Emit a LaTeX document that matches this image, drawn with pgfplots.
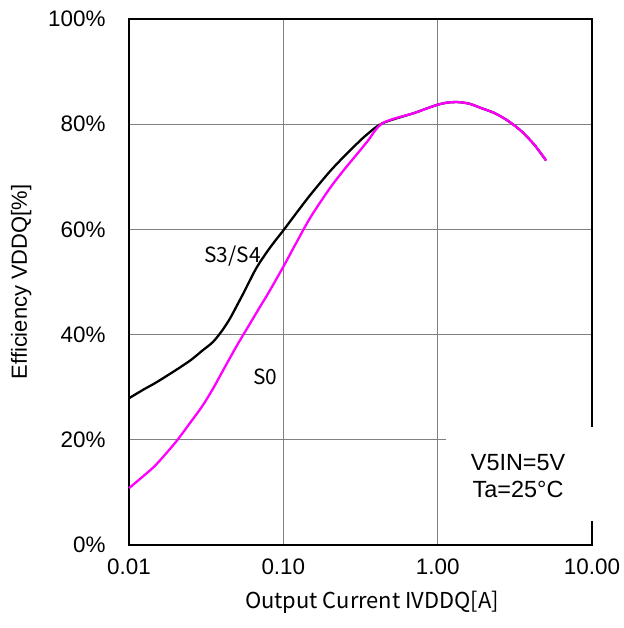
\documentclass[border=0pt]{standalone}
\usepackage{fontspec}
\setmainfont{Liberation Sans}
\newfontfamily\gothic{Noto Sans CJK JP}
\usepackage{pgfplots}
\pgfplotsset{compat=1.18}
\definecolor{mag}{RGB}{255,0,255}
\begin{document}
\begin{tikzpicture}
\begin{axis}[
  width=463bp, height=526bp, scale only axis,
  xmode=log, xmin=0.01, xmax=10, ymin=0, ymax=100,
  xtick={0.01,0.1,1,10}, xticklabels={0.01,0.10,1.00,10.00},
  ytick={0,20,40,60,80,100}, yticklabels={0\%,20\%,40\%,60\%,80\%,100\%},
  minor xtick={}, xminorgrids=false,
  grid=major,
  major grid style={draw=black!50, line width=0.8pt},
  axis line style={line width=1.8pt},
  major tick length=0pt, minor tick length=0pt,
  /pgf/number format/assume math mode=true,
  tick label style={font=\fontsize{22.5}{26}\selectfont},
  xticklabel style={yshift=-10bp},
  yticklabel style={xshift=-20bp},
  xlabel={\gothic\fontsize{22}{24}\selectfont Output Current IVDDQ[A]},
  ylabel={\fontsize{22}{26}\selectfont Efficiency VDDQ[\%]},
  xlabel style={at={(axis description cs:0.525,-0.12)}, anchor=base},
  ylabel style={at={(axis description cs:-0.233,0.5)}, anchor=center},
  clip=false,
  after end axis/.code={
    \fill[white] (axis cs:1.135,4.6) rectangle ([xshift=12bp]axis cs:10,22.4);
    \node[align=center, font=\fontsize{23.5}{28}\selectfont] at (axis cs:3.32,13.1) {V5IN=5V\\Ta=25°C};
    \path ([xshift=-129bp,yshift=19bp]axis description cs:0,1) rectangle ([xshift=28bp,yshift=-83bp]axis description cs:1,0);
  },
]
\addplot[black, line width=2.3pt, smooth] coordinates {
(0.01,27.9) (0.0125,29.6) (0.015,30.9) (0.02,33.2) (0.025,35.1) (0.03,37.0)
(0.035,38.6) (0.04,40.7) (0.045,43.0) (0.05,45.5) (0.055,47.8) (0.06,50.0)
(0.065,52.0) (0.07,53.6) (0.08,56.1) (0.09,58.1) (0.1,59.8) (0.12,62.9)
(0.15,66.6) (0.2,71.0) (0.25,74.0) (0.3,76.3) (0.35,78.1) (0.44,80.2)
(0.7,82.1) (0.85,83.0) (1.0,83.7) (1.15,84.1) (1.35,84.2) (1.6,83.9)
(1.9,83.1) (2.3,82.2) (2.7,81.1) (3.13,79.8) (3.6,78.3) (4.2,76.2) (4.6,74.7) (5.04,73.1)
};
\addplot[mag, line width=2.3pt, smooth] coordinates {
(0.01,10.8) (0.0125,13.2) (0.015,15.3) (0.02,19.5) (0.025,23.3) (0.03,26.5)
(0.035,29.7) (0.04,32.8) (0.05,37.9) (0.06,41.8) (0.07,45.1) (0.08,47.9)
(0.1,52.9) (0.12,57.2) (0.15,62.3) (0.2,67.8) (0.25,71.5) (0.3,74.3)
(0.35,76.7) (0.44,80.2) (0.7,82.1) (0.85,83.0) (1.0,83.7) (1.15,84.1)
(1.35,84.2) (1.6,83.9) (1.9,83.1) (2.3,82.2) (2.7,81.1) (3.13,79.8)
(3.6,78.3) (4.2,76.2) (4.6,74.7) (5.04,73.1)
};
\node[font=\gothic\fontsize{21}{24}\selectfont] at (axis cs:0.0469,55) {S3/S4};
\node[font=\gothic\fontsize{21}{24}\selectfont] at (axis cs:0.0766,32) {S0};
\end{axis}
\end{tikzpicture}
\end{document}
